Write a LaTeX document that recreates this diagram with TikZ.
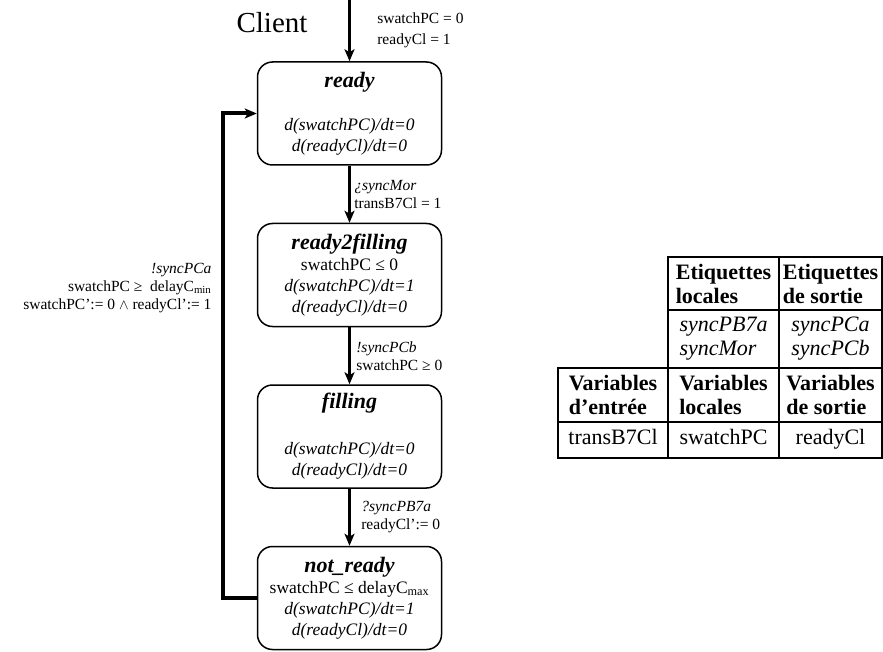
\documentclass[tikz,border=0pt]{standalone}
\usepackage{fontspec}
\setmainfont{Liberation Serif}
\usetikzlibrary{arrows.meta,positioning}

\newcommand{\sttitle}[1]{{\fontsize{22}{24}\selectfont\bfseries\itshape #1}}

\begin{document}
\begin{tikzpicture}[x=1pt, y=-1pt,
    state/.style={rectangle, draw, line width=1.5pt, rounded corners=15pt, minimum width=184pt, minimum height=103pt, align=center, font=\fontsize{17.5}{21}\selectfont},
    trans/.style={-{Stealth[length=12pt,width=10pt,inset=3pt]}, line width=3pt},
    lbl/.style={align=left, font=\fontsize{15.5}{18}\selectfont},
    cell/.style={rectangle, draw, line width=1.2pt, outer sep=0pt, inner sep=0pt, align=left, font=\fontsize{22}{24}\selectfont}]

    \useasboundingbox (0,0) rectangle (883,652);

    % Automate
    \node (client) at (272,23) {\fontsize{29}{32}\selectfont Client};
    \coordinate (init) at (349.5,0);
    \node (ready) [state] at (349.5,113.5) {\sttitle{ready}\\[22pt] \textit{d(swatchPC)/dt=0}\\ \textit{d(readyCl)/dt=0}};
    \node (r2f) [state, below=57pt of ready] {\sttitle{ready2filling}\\ swatchPC ≤ 0\\ \textit{d(swatchPC)/dt=1}\\ \textit{d(readyCl)/dt=0}};
    \node (filling) [state, below=57pt of r2f] {\sttitle{filling}\\[25pt] \textit{d(swatchPC)/dt=0}\\ \textit{d(readyCl)/dt=0}};
    \node (notready) [state, below=57pt of filling] {\sttitle{not\_ready}\\ swatchPC ≤ delayC\textsubscript{max}\\ \textit{d(swatchPC)/dt=1}\\ \textit{d(readyCl)/dt=0}};

    % Transitions
    \draw [trans] (init) -- (ready.north) node [lbl, midway, right, xshift=23pt] {swatchPC = 0\\[3pt] readyCl = 1};
    \draw [trans] (ready) -- (r2f) node [lbl, midway, right] {\textit{¿syncMor}\\ transB7Cl = 1};
    \draw [trans] (r2f) -- (filling) node [lbl, midway, right, xshift=2pt] {\textit{!syncPCb}\\ swatchPC ≥ 0};
    \draw [trans] (filling) -- (notready) node [lbl, midway, right, xshift=7pt] {\textit{?syncPB7a}\\ readyCl’:= 0};
    \draw [trans, line width=4pt] (notready.west) -- ++(-34,0) |- node [lbl, pos=0.32, left, align=right, xshift=-6pt] {\textit{!syncPCa}\\ swatchPC ≥~ delayC\textsubscript{min}\\ swatchPC’:= 0 $\wedge$ readyCl’:= 1} (ready.west);

    % Tableau
    \node (etloc) [cell, minimum width=111pt, minimum height=53pt, anchor=north west] at (668,257) {\textbf{Etiquettes}\\ \textbf{locales}};
    \node (etsor) [cell, minimum width=103pt, minimum height=53pt, right=0pt of etloc] {\textbf{Etiquettes}\\ \textbf{de sortie}};
    \node (synloc) [cell, minimum width=111pt, minimum height=58pt, below=0pt of etloc] {\textit{syncPB7a}\\ \textit{syncMor}};
    \node (synsor) [cell, minimum width=103pt, minimum height=58pt, below=0pt of etsor] {\textit{syncPCa}\\ \textit{syncPCb}};
    \node (varloc) [cell, minimum width=111pt, minimum height=54pt, below=0pt of synloc] {\textbf{Variables}\\ \textbf{locales}};
    \node (varent) [cell, minimum width=110pt, minimum height=54pt, left=0pt of varloc] {\textbf{Variables}\\ \textbf{d’entrée}};
    \node (varsor) [cell, minimum width=103pt, minimum height=54pt, below=0pt of synsor] {\textbf{Variables}\\ \textbf{de sortie}};
    \node (valent) [cell, minimum width=110pt, minimum height=36pt, below=0pt of varent] {\strut transB7Cl};
    \node (valloc) [cell, minimum width=111pt, minimum height=36pt, below=0pt of varloc] {\strut swatchPC};
    \node (valsor) [cell, minimum width=103pt, minimum height=36pt, below=0pt of varsor] {\strut readyCl};
\end{tikzpicture}
\end{document}
